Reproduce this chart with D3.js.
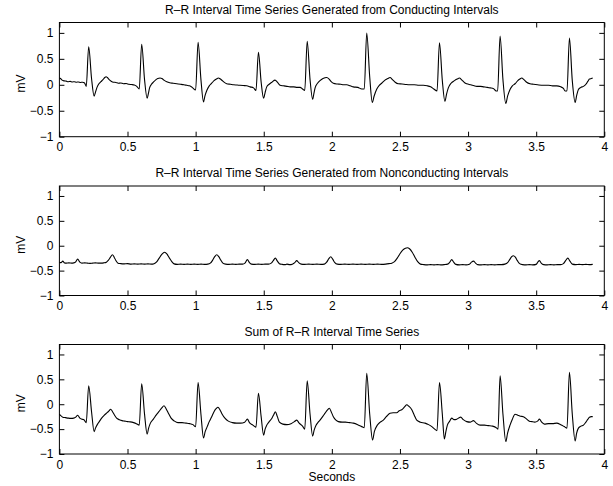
<!DOCTYPE html>
<html><head><meta charset="utf-8">
<script src="https://cdn.jsdelivr.net/npm/d3@7"></script>
<style>
body{margin:0;background:#fff}
svg{display:block}
text{font-family:"Liberation Sans",Arial,Helvetica,sans-serif}
</style></head>
<body><svg id="c" width="613" height="486"></svg>
<script>
// ---- data (seconds, mV) ----
const titles = [
  "R\u2013R Interval Time Series Generated from Conducting Intervals",
  "R\u2013R Interval Time Series Generated from Nonconducting Intervals",
  "Sum of R\u2013R Interval Time Series"
];
const xTicks = [0, 0.5, 1, 1.5, 2, 2.5, 3, 3.5, 4];
const xTickLabels = ["0", "0.5", "1", "1.5", "2", "2.5", "3", "3.5", "4"];
const yTicks = [-1, -0.5, 0, 0.5, 1];
const yTickLabels = ["\u22121", "\u22120.5", "0", "0.5", "1"];
const yLabel = "mV";
const xLabel = "Seconds";

const conducting = [
[0.000,0.13],[0.008,0.12],[0.020,0.09],[0.035,0.075],[0.050,0.07],[0.065,0.06],[0.080,0.065],[0.095,0.055],[0.110,0.06],[0.125,0.05],[0.140,0.055],[0.155,0.045],[0.170,0.05],[0.185,0.035],[0.197,-0.03],
[0.215,0.73],[0.236,0.12],[0.255,-0.22],[0.265,-0.14],[0.276,-0.05],[0.290,0.02],[0.305,0.06],[0.320,0.10],[0.333,0.14],[0.343,0.155],[0.352,0.14],[0.365,0.10],[0.380,0.07],[0.397,0.05],[0.415,0.045],[0.432,0.03],[0.450,0.035],[0.470,0.02],[0.490,0.025],[0.510,0.01],[0.530,0.005],[0.550,-0.005],[0.568,-0.03],[0.586,-0.08],
[0.604,0.78],[0.625,0.10],[0.644,-0.26],[0.653,-0.17],[0.662,-0.06],[0.676,0.01],[0.690,0.05],[0.705,0.09],[0.722,0.12],[0.739,0.13],[0.752,0.12],[0.768,0.09],[0.788,0.06],[0.810,0.04],[0.835,0.03],[0.862,0.02],[0.890,0.01],[0.915,0.00],[0.935,-0.01],[0.955,-0.02],[0.975,-0.05],[1.000,-0.10],
[1.018,0.82],[1.039,0.10],[1.058,-0.33],[1.068,-0.22],[1.082,-0.11],[1.100,-0.02],[1.118,0.03],[1.135,0.08],[1.152,0.11],[1.167,0.13],[1.182,0.11],[1.200,0.07],[1.228,0.02],[1.255,0.01],[1.280,0.00],[1.305,-0.005],[1.326,-0.01],[1.350,-0.015],[1.375,-0.02],[1.400,-0.04],[1.425,-0.06],[1.443,-0.11],
[1.461,0.625],[1.481,0.05],[1.499,-0.26],[1.510,-0.15],[1.522,-0.04],[1.540,0.01],[1.560,0.05],[1.583,0.09],[1.600,0.05],[1.620,-0.01],[1.645,-0.02],[1.670,-0.03],[1.693,-0.04],[1.720,-0.04],[1.745,-0.05],[1.767,-0.05],[1.785,-0.08],[1.801,-0.11],
[1.819,0.84],[1.840,0.10],[1.859,-0.28],[1.868,-0.17],[1.877,-0.06],[1.895,0.03],[1.913,0.08],[1.935,0.12],[1.962,0.14],[1.980,0.11],[1.995,0.06],[2.011,0.03],[2.040,0.015],[2.065,0.01],[2.085,0.00],[2.110,0.00],[2.135,-0.02],[2.158,-0.04],[2.190,-0.05],[2.220,-0.08],[2.238,-0.08],
[2.256,0.996],[2.278,0.15],[2.297,-0.34],[2.310,-0.22],[2.330,-0.08],[2.348,-0.01],[2.366,0.03],[2.390,0.09],[2.410,0.12],[2.427,0.14],[2.445,0.10],[2.465,0.05],[2.488,0.02],[2.515,0.015],[2.545,0.005],[2.574,0.00],[2.605,0.00],[2.640,-0.01],[2.672,-0.01],[2.700,-0.02],[2.725,-0.04],[2.748,-0.08],[2.772,-0.12],
[2.790,0.81],[2.811,0.08],[2.830,-0.32],[2.842,-0.18],[2.855,-0.06],[2.875,0.03],[2.900,0.08],[2.920,0.11],[2.936,0.13],[2.955,0.09],[2.975,0.04],[2.990,0.02],[3.020,0.00],[3.045,-0.02],[3.064,-0.03],[3.090,-0.03],[3.115,-0.04],[3.140,-0.05],[3.162,-0.06],[3.185,-0.07],[3.206,-0.12],[3.217,-0.12],
[3.235,0.94],[3.256,0.10],[3.277,-0.36],[3.290,-0.22],[3.308,-0.09],[3.325,-0.02],[3.345,0.02],[3.365,0.08],[3.380,0.11],[3.394,0.13],[3.410,0.10],[3.430,0.05],[3.455,0.02],[3.480,0.01],[3.510,0.00],[3.553,-0.01],[3.590,-0.01],[3.620,-0.02],[3.651,-0.02],[3.680,-0.04],[3.700,-0.07],[3.712,-0.12],[3.726,-0.12],
[3.744,0.90],[3.765,0.08],[3.786,-0.34],[3.797,-0.21],[3.810,-0.09],[3.828,-0.05],[3.847,-0.03],[3.865,0.01],[3.880,0.07],[3.891,0.11],[3.905,0.12],[3.915,0.13]
];

const nonconducting = [
[0.000,-0.33],[0.012,-0.34],[0.025,-0.31],[0.035,-0.34],[0.050,-0.35],[0.070,-0.345],[0.090,-0.35],[0.105,-0.345],[0.118,-0.33],[0.134,-0.27],[0.150,-0.33],[0.165,-0.35],[0.185,-0.345],[0.205,-0.35],[0.225,-0.355],[0.245,-0.35],[0.265,-0.345],[0.285,-0.35],[0.305,-0.35],[0.325,-0.345],[0.345,-0.33],[0.360,-0.29],[0.375,-0.23],[0.389,-0.18],[0.402,-0.23],[0.415,-0.30],[0.430,-0.35],[0.450,-0.36],[0.475,-0.365],[0.500,-0.36],[0.525,-0.37],[0.550,-0.365],[0.575,-0.37],[0.600,-0.365],[0.625,-0.37],[0.650,-0.365],[0.675,-0.37],[0.695,-0.36],[0.712,-0.33],[0.730,-0.26],[0.750,-0.18],[0.773,-0.13],[0.790,-0.17],[0.808,-0.25],[0.825,-0.32],[0.842,-0.365],[0.865,-0.375],[0.890,-0.37],[0.915,-0.375],[0.940,-0.37],[0.965,-0.375],[0.990,-0.37],[1.015,-0.375],[1.040,-0.37],[1.065,-0.375],[1.090,-0.37],[1.108,-0.35],[1.125,-0.29],[1.140,-0.22],[1.155,-0.18],[1.170,-0.22],[1.185,-0.29],[1.200,-0.35],[1.220,-0.37],[1.245,-0.375],[1.270,-0.37],[1.295,-0.375],[1.320,-0.37],[1.345,-0.37],[1.362,-0.35],[1.380,-0.28],[1.395,-0.34],[1.410,-0.37],[1.435,-0.375],[1.460,-0.37],[1.485,-0.375],[1.510,-0.37],[1.535,-0.37],[1.555,-0.35],[1.570,-0.30],[1.585,-0.25],[1.600,-0.31],[1.615,-0.36],[1.635,-0.375],[1.655,-0.38],[1.670,-0.37],[1.690,-0.38],[1.710,-0.37],[1.728,-0.34],[1.742,-0.30],[1.757,-0.34],[1.775,-0.37],[1.800,-0.375],[1.830,-0.37],[1.860,-0.375],[1.890,-0.37],[1.920,-0.375],[1.945,-0.37],[1.962,-0.33],[1.978,-0.26],[1.992,-0.22],[2.006,-0.27],[2.022,-0.34],[2.040,-0.37],[2.065,-0.375],[2.095,-0.37],[2.125,-0.375],[2.155,-0.37],[2.185,-0.375],[2.215,-0.37],[2.245,-0.375],[2.275,-0.37],[2.305,-0.375],[2.335,-0.37],[2.365,-0.375],[2.395,-0.37],[2.420,-0.36],[2.440,-0.35],[2.460,-0.32],[2.480,-0.25],[2.500,-0.16],[2.520,-0.09],[2.540,-0.05],[2.555,-0.04],[2.570,-0.06],[2.590,-0.13],[2.610,-0.23],[2.630,-0.32],[2.650,-0.37],[2.675,-0.38],[2.700,-0.385],[2.725,-0.38],[2.750,-0.385],[2.775,-0.38],[2.800,-0.385],[2.825,-0.38],[2.850,-0.37],[2.866,-0.33],[2.880,-0.28],[2.894,-0.33],[2.910,-0.375],[2.935,-0.385],[2.960,-0.38],[2.985,-0.385],[3.010,-0.37],[3.025,-0.33],[3.040,-0.31],[3.055,-0.35],[3.070,-0.38],[3.095,-0.385],[3.120,-0.38],[3.145,-0.385],[3.170,-0.38],[3.195,-0.385],[3.220,-0.38],[3.245,-0.38],[3.270,-0.37],[3.290,-0.34],[3.305,-0.28],[3.320,-0.22],[3.333,-0.20],[3.347,-0.23],[3.362,-0.30],[3.378,-0.36],[3.400,-0.38],[3.425,-0.385],[3.450,-0.38],[3.475,-0.385],[3.500,-0.375],[3.512,-0.33],[3.524,-0.30],[3.537,-0.35],[3.555,-0.38],[3.580,-0.385],[3.605,-0.38],[3.630,-0.385],[3.655,-0.38],[3.680,-0.38],[3.700,-0.36],[3.716,-0.30],[3.732,-0.25],[3.748,-0.31],[3.765,-0.37],[3.790,-0.38],[3.815,-0.375],[3.840,-0.38],[3.865,-0.375],[3.890,-0.38],[3.915,-0.375]
];

const summed = [
[0.000,-0.20],[0.010,-0.23],[0.025,-0.26],[0.045,-0.27],[0.065,-0.28],[0.085,-0.285],[0.105,-0.28],[0.120,-0.26],[0.134,-0.22],[0.150,-0.28],[0.165,-0.30],[0.180,-0.31],[0.197,-0.37],
[0.215,0.37],[0.236,-0.15],[0.255,-0.55],[0.265,-0.48],[0.280,-0.40],[0.295,-0.34],[0.310,-0.28],[0.330,-0.22],[0.350,-0.17],[0.365,-0.13],[0.376,-0.10],[0.390,-0.15],[0.405,-0.22],[0.420,-0.28],[0.440,-0.31],[0.460,-0.33],[0.480,-0.34],[0.500,-0.35],[0.520,-0.355],[0.545,-0.37],[0.565,-0.39],[0.586,-0.42],
[0.604,0.41],[0.625,-0.20],[0.644,-0.60],[0.655,-0.48],[0.668,-0.38],[0.690,-0.30],[0.710,-0.22],[0.730,-0.15],[0.750,-0.08],[0.768,-0.03],[0.785,-0.10],[0.800,-0.18],[0.820,-0.28],[0.845,-0.34],[0.870,-0.37],[0.900,-0.37],[0.930,-0.38],[0.955,-0.39],[0.980,-0.41],[1.000,-0.45],
[1.018,0.435],[1.039,-0.20],[1.058,-0.68],[1.070,-0.55],[1.085,-0.45],[1.100,-0.35],[1.118,-0.25],[1.135,-0.15],[1.150,-0.09],[1.164,-0.06],[1.180,-0.12],[1.195,-0.20],[1.215,-0.28],[1.240,-0.34],[1.270,-0.37],[1.300,-0.38],[1.330,-0.38],[1.360,-0.36],[1.380,-0.30],[1.395,-0.37],[1.420,-0.42],[1.443,-0.46],
[1.461,0.22],[1.481,-0.25],[1.499,-0.62],[1.510,-0.50],[1.522,-0.42],[1.540,-0.35],[1.560,-0.28],[1.575,-0.20],[1.585,-0.15],[1.600,-0.25],[1.615,-0.36],[1.640,-0.40],[1.670,-0.41],[1.700,-0.39],[1.725,-0.35],[1.742,-0.32],[1.760,-0.38],[1.785,-0.44],[1.801,-0.50],
[1.819,0.47],[1.840,-0.20],[1.859,-0.64],[1.870,-0.52],[1.884,-0.42],[1.900,-0.36],[1.913,-0.32],[1.935,-0.24],[1.950,-0.18],[1.970,-0.11],[1.982,-0.08],[1.995,-0.15],[2.011,-0.25],[2.030,-0.32],[2.048,-0.35],[2.075,-0.36],[2.100,-0.36],[2.130,-0.37],[2.158,-0.38],[2.190,-0.41],[2.220,-0.45],[2.238,-0.47],
[2.256,0.62],[2.278,-0.20],[2.299,-0.72],[2.312,-0.55],[2.334,-0.42],[2.355,-0.36],[2.378,-0.32],[2.400,-0.25],[2.427,-0.18],[2.450,-0.17],[2.476,-0.17],[2.495,-0.13],[2.513,-0.11],[2.535,-0.05],[2.550,-0.01],[2.565,-0.04],[2.587,-0.11],[2.605,-0.22],[2.623,-0.32],[2.650,-0.36],[2.684,-0.38],[2.710,-0.41],[2.734,-0.45],[2.755,-0.50],[2.772,-0.53],
[2.790,0.435],[2.811,-0.20],[2.826,-0.70],[2.837,-0.55],[2.848,-0.42],[2.865,-0.34],[2.880,-0.28],[2.897,-0.31],[2.917,-0.30],[2.935,-0.27],[2.946,-0.26],[2.965,-0.31],[2.990,-0.35],[3.015,-0.36],[3.040,-0.33],[3.060,-0.38],[3.088,-0.42],[3.120,-0.42],[3.150,-0.43],[3.180,-0.44],[3.211,-0.48],[3.220,-0.50],
[3.235,0.57],[3.256,-0.20],[3.277,-0.75],[3.290,-0.58],[3.308,-0.42],[3.325,-0.30],[3.345,-0.20],[3.365,-0.22],[3.385,-0.24],[3.406,-0.25],[3.430,-0.30],[3.450,-0.34],[3.468,-0.35],[3.490,-0.36],[3.510,-0.34],[3.524,-0.30],[3.540,-0.36],[3.560,-0.40],[3.590,-0.39],[3.620,-0.39],[3.651,-0.38],[3.680,-0.41],[3.700,-0.44],[3.712,-0.46],[3.726,-0.48],
[3.744,0.64],[3.765,-0.20],[3.786,-0.74],[3.797,-0.58],[3.810,-0.48],[3.828,-0.44],[3.847,-0.42],[3.865,-0.36],[3.880,-0.30],[3.891,-0.26],[3.905,-0.25],[3.915,-0.25]
];

const seriesList = [conducting, nonconducting, summed];

// ---- layout ----
const X0 = 59.4, X1 = 604.3;
const panelBoxes = [[22.5, 136.7], [186, 295.5], [344.5, 454]];
const FONT = 12;

const svg = d3.select("#c");
const x = d3.scaleLinear().domain([0, 4]).range([X0, X1]);

panelBoxes.forEach(([top, bottom], i) => {
  const y = d3.scaleLinear().domain([-1, 1.2]).range([bottom, top]);
  const g = svg.append("g");

  // data line
  const line = d3.line().x(d => x(d[0])).y(d => y(d[1])).curve(d3.curveMonotoneX);
  g.append("path").datum(seriesList[i])
    .attr("d", line).attr("fill", "none")
    .attr("stroke", "#000").attr("stroke-width", 1.1)
    .attr("stroke-linejoin", "round");

  const fmtX = (d, k) => xTickLabels[xTicks.indexOf(d)];
  const fmtY = (d, k) => yTickLabels[yTicks.indexOf(d)];

  const ax = [
    g.append("g").attr("transform", `translate(0,${bottom})`)
      .call(d3.axisBottom(x).tickValues(xTicks).tickFormat(fmtX).tickSize(-5).tickPadding(6)),
    g.append("g").attr("transform", `translate(0,${top})`)
      .call(d3.axisTop(x).tickValues(xTicks).tickFormat("").tickSize(-5)),
    g.append("g").attr("transform", `translate(${X0},0)`)
      .call(d3.axisLeft(y).tickValues(yTicks).tickFormat(fmtY).tickSize(-5).tickPadding(6)),
    g.append("g").attr("transform", `translate(${X1},0)`)
      .call(d3.axisRight(y).tickValues(yTicks).tickFormat("").tickSize(-5))
  ];
  ax.forEach(a => {
    a.select(".domain").remove();
    a.attr("font-size", FONT).attr("font-family", '"Liberation Sans",Arial,Helvetica,sans-serif');
    a.selectAll("line").attr("stroke", "#000");
    a.selectAll("text").attr("fill", "#000");
  });

  // frame
  g.append("rect").attr("x", X0).attr("y", top)
    .attr("width", X1 - X0).attr("height", bottom - top)
    .attr("fill", "none").attr("stroke", "#000").attr("stroke-width", 1);

  // title
  g.append("text").attr("x", (X0 + X1) / 2).attr("y", top - 9)
    .attr("text-anchor", "middle").attr("font-size", FONT).text(titles[i]);

  // y label
  const cy = (top + bottom) / 2 + 4;
  g.append("text").attr("transform", `translate(25,${cy}) rotate(-90)`)
    .attr("text-anchor", "middle").attr("font-size", FONT).text(yLabel);
});

svg.append("text").attr("x", (X0 + X1) / 2).attr("y", 481)
  .attr("text-anchor", "middle").attr("font-size", FONT).text(xLabel);
</script>
</body></html>
